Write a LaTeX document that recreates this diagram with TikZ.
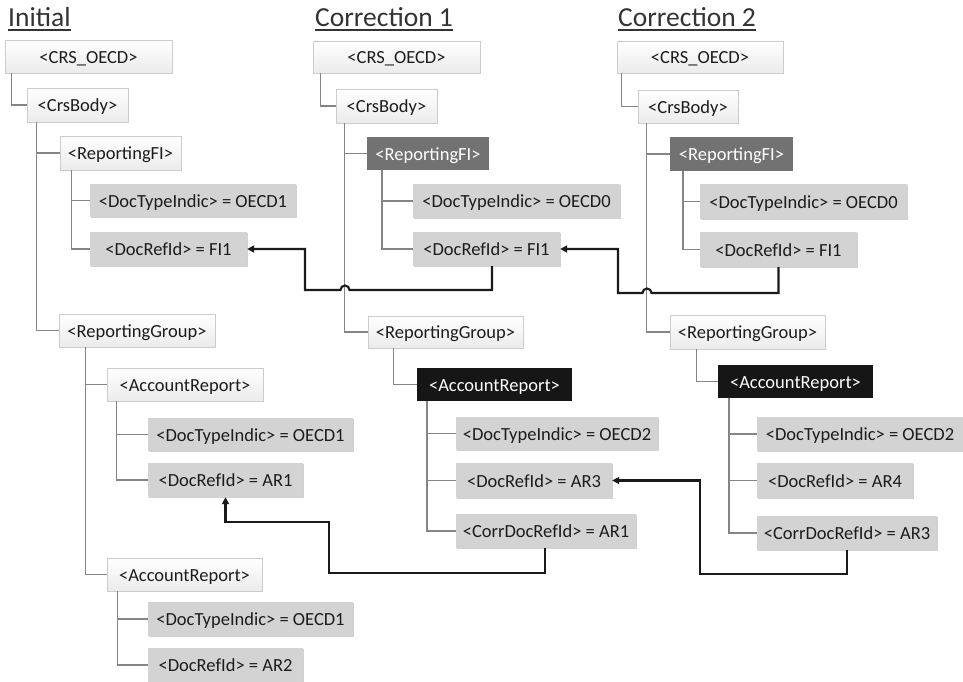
\documentclass[tikz,border=0pt]{standalone}
\usepackage{fontspec}
\setmainfont{Carlito}
\usetikzlibrary{arrows.meta,shadows}
\definecolor{txt}{HTML}{1C1C1C}
\definecolor{titc}{HTML}{333333}
\definecolor{lborder}{HTML}{CCCCCC}
\definecolor{lgray}{HTML}{EBEBEB}
\definecolor{vgray}{HTML}{D3D3D3}
\definecolor{dgray}{HTML}{727272}
\definecolor{bgray}{HTML}{161616}
\definecolor{treec}{HTML}{858585}
\definecolor{refc}{HTML}{1A1A1A}
\begin{document}
\begin{tikzpicture}[x=1pt,y=-1pt,
  base/.style={inner sep=0pt, minimum height=33pt, text height=17pt, text depth=3.4pt,
    font=\fontsize{18.5}{20}\selectfont, text=txt},
  lbox/.style={base, draw=lborder, line width=0.7pt, top color=white, bottom color=lgray,
    drop shadow={shadow xshift=0.8pt,shadow yshift=-1pt,fill=black,opacity=0.12}},
  vbox/.style={base, fill=vgray,
    drop shadow={shadow xshift=0.8pt,shadow yshift=-1.2pt,fill=black,opacity=0.18}},
  dbox/.style={base, fill=dgray, text=white},
  bbox/.style={base, fill=bgray, text=white},
  tree/.style={draw=treec, line width=1.5pt},
  ref/.style={draw=refc, line width=2.1pt, -{Triangle[length=7pt,width=7pt]}},
  title/.style={inner sep=0pt, anchor=base west, font=\fontsize{27.5}{30}\selectfont, text=titc},
  uline/.style={draw=titc, line width=1.6pt}
]
\fill[white] (0,0) rectangle (963,682);
\useasboundingbox (0,0) rectangle (963,682);

% titles
\node[title] (t1) at (8,27) {Initial};
\node[title] (t2) at (315,27) {Correction 1};
\node[title] (t3) at (618,27) {Correction 2};
\foreach \t in {t1,t2,t3}
  \draw[uline] ([yshift=-3pt]\t.base west) -- ([yshift=-3pt]\t.base east);

% column 1
\node[lbox, minimum width=167pt] (c1a) at (88.5,56.5) {<CRS\_OECD>};
\node[lbox, minimum width=101pt, minimum height=34pt] (c1b) at (77.5,105) {<CrsBody>};
\node[lbox, minimum width=121pt, minimum height=34pt] (c1c) at (120.5,153) {<ReportingFI>};
\node[vbox, minimum width=206pt] (c1d) at (193,200.5) {<DocTypeIndic> = OECD1};
\node[vbox, minimum width=157pt, minimum height=34pt] (c1e) at (168.5,249) {<DocRefId> = FI1};
\node[lbox, minimum width=156pt] (c1f) at (137,330.5) {<ReportingGroup>};
\node[lbox, minimum width=156pt] (c1g) at (185,384.5) {<AccountReport>};
\node[vbox, minimum width=205pt] (c1h) at (250.5,434.5) {<DocTypeIndic> = OECD1};
\node[vbox, minimum width=155pt, minimum height=34pt] (c1i) at (225.5,480) {<DocRefId> = AR1};
\node[lbox, minimum width=155pt] (c1j) at (184.5,574.5) {<AccountReport>};
\node[vbox, minimum width=205pt, minimum height=34pt] (c1k) at (250.5,619) {<DocTypeIndic> = OECD1};
\node[vbox, minimum width=155pt, minimum height=34pt] (c1l) at (225.5,665) {<DocRefId> = AR2};

\draw[tree] ([xshift=7pt]c1a.south west) |- (c1b.west);
\draw[tree] ([xshift=10pt]c1b.south west) |- (c1c.west);
\draw[tree] ([xshift=10pt]c1b.south west) |- (c1f.west);
\draw[tree] ([xshift=12pt]c1c.south west) |- (c1d.west);
\draw[tree] ([xshift=12pt]c1c.south west) |- (c1e.west);
\draw[tree] ([xshift=27pt]c1f.south west) |- (c1g.west);
\draw[tree] ([xshift=27pt]c1f.south west) |- (c1j.west);
\draw[tree] ([xshift=10pt]c1g.south west) |- (c1h.west);
\draw[tree] ([xshift=10pt]c1g.south west) |- (c1i.west);
\draw[tree] ([xshift=11pt]c1j.south west) |- (c1k.west);
\draw[tree] ([xshift=11pt]c1j.south west) |- (c1l.west);

% column 2
\node[lbox, minimum width=167pt, minimum height=32pt] (c2a) at (396.5,57) {<CRS\_OECD>};
\node[lbox, minimum width=101pt, minimum height=34pt] (c2b) at (386.5,106) {<CrsBody>};
\node[dbox, minimum width=122pt] (c2c) at (428,153.5) {<ReportingFI>};
\node[vbox, minimum width=207pt, minimum height=34pt] (c2d) at (516.5,201) {<DocTypeIndic> = OECD0};
\node[vbox, minimum width=147pt, minimum height=34pt] (c2e) at (486.5,249) {<DocRefId> = FI1};
\node[lbox, minimum width=155pt, minimum height=32pt] (c2f) at (445.5,332) {<ReportingGroup>};
\node[bbox, minimum width=155pt] (c2g) at (494.5,384.5) {<AccountReport>};
\node[vbox, minimum width=202pt] (c2h) at (557,433.5) {<DocTypeIndic> = OECD2};
\node[vbox, minimum width=156pt, minimum height=35pt] (c2i) at (534,480.5) {<DocRefId> = AR3};
\node[vbox, minimum width=180pt, minimum height=34pt] (c2j) at (546,531) {<CorrDocRefId> = AR1};

\draw[tree] ([xshift=8pt]c2a.south west) |- (c2b.west);
\draw[tree] ([xshift=9pt]c2b.south west) |- (c2c.west);
\draw[tree] ([xshift=9pt]c2b.south west) |- (c2f.west);
\draw[tree] ([xshift=15pt]c2c.south west) |- (c2d.west);
\draw[tree] ([xshift=15pt]c2c.south west) |- (c2e.west);
\draw[tree] ([xshift=26pt]c2f.south west) |- (c2g.west);
\draw[tree] ([xshift=10pt]c2g.south west) |- (c2h.west);
\draw[tree] ([xshift=10pt]c2g.south west) |- (c2i.west);
\draw[tree] ([xshift=10pt]c2g.south west) |- (c2j.west);

% column 3
\node[lbox, minimum width=166pt, minimum height=32pt] (c3a) at (700,57) {<CRS\_OECD>};
\node[lbox, minimum width=100pt] (c3b) at (688,106.5) {<CrsBody>};
\node[dbox, minimum width=123pt, minimum height=34pt] (c3c) at (731.5,154) {<ReportingFI>};
\node[vbox, minimum width=207pt, minimum height=35pt] (c3d) at (803.5,201.5) {<DocTypeIndic> = OECD0};
\node[vbox, minimum width=157pt, minimum height=35pt] (c3e) at (778.5,249.5) {<DocRefId> = FI1};
\node[lbox, minimum width=155pt, minimum height=34pt] (c3f) at (747.5,332) {<ReportingGroup>};
\node[bbox, minimum width=155pt] (c3g) at (795.5,381.5) {<AccountReport>};
\node[vbox, minimum width=206pt, minimum height=34pt] (c3h) at (860,434) {<DocTypeIndic> = OECD2};
\node[vbox, minimum width=156pt, minimum height=35pt] (c3i) at (835,480.5) {<DocRefId> = AR4};
\node[vbox, minimum width=180pt, minimum height=34pt] (c3j) at (847,533) {<CorrDocRefId> = AR3};

\draw[tree] ([xshift=5pt]c3a.south west) |- (c3b.west);
\draw[tree] ([xshift=9pt]c3b.south west) |- (c3c.west);
\draw[tree] ([xshift=9pt]c3b.south west) |- (c3f.west);
\draw[tree] ([xshift=13pt]c3c.south west) |- (c3d.west);
\draw[tree] ([xshift=13pt]c3c.south west) |- (c3e.west);
\draw[tree] ([xshift=27pt]c3f.south west) |- (c3g.west);
\draw[tree] ([xshift=11pt]c3g.south west) |- (c3h.west);
\draw[tree] ([xshift=11pt]c3g.south west) |- (c3i.west);
\draw[tree] ([xshift=11pt]c3g.south west) |- (c3j.west);

% reference arrows
\draw[ref] ([xshift=5.5pt]c2e.south) |- (349.5,290)
  arc[start angle=0, end angle=180, radius=4.5pt] -- (305,290) |- (c1e.east);
\draw[ref] (c3e.south) |- (651.5,293)
  arc[start angle=0, end angle=180, radius=4.5pt] -- (618,293) |- (c2e.east);
\draw[ref] ([xshift=-1pt]c2j.south) |- (329,573) |- ([yshift=-25pt]c1i.south) -- (c1i.south);
\draw[ref] (c3j.south) |- (700,574) |- (c2i.east);
\end{tikzpicture}
\end{document}
